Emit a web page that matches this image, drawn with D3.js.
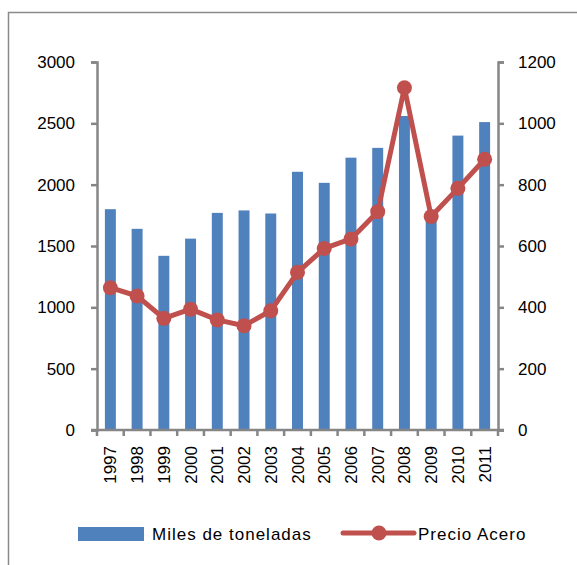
<!DOCTYPE html>
<html>
<head>
<meta charset="utf-8">
<script src="https://cdn.jsdelivr.net/npm/d3@7"></script>
<style>
  body { margin: 0; background: #fff; }
  text { font-family: "Liberation Sans", Arial, sans-serif; font-size: 17px; fill: #000; }
  .legend text { letter-spacing: 1px; }
  .axis path, .axis line { stroke: #868686; stroke-width: 2.5; }
</style>
</head>
<body>
<div class="chart"></div>
<script>
var years = ["1997","1998","1999","2000","2001","2002","2003","2004","2005","2006","2007","2008","2009","2010","2011"];
var toneladas = [1800, 1640, 1420, 1560, 1770, 1790, 1765, 2105, 2015, 2220, 2300, 2560, 1740, 2400, 2510];
var precio = [464, 437, 364, 394, 359, 340, 389, 514, 592, 623, 712, 1116, 696, 788, 883];
var leftTicks = [0, 500, 1000, 1500, 2000, 2500, 3000];
var rightTicks = [0, 200, 400, 600, 800, 1000, 1200];

var W = 577, H = 565;
var margin = { top: 62, right: 79, bottom: 135, left: 97 };
var width = W - margin.left - margin.right;
var height = H - margin.top - margin.bottom;

var svg = d3.select(".chart").append("svg")
    .attr("width", W)
    .attr("height", H);

// outer frame (right and bottom edges fall outside the picture)
svg.append("rect")
    .attr("x", 8.5).attr("y", 12.5)
    .attr("width", 700).attr("height", 700)
    .attr("fill", "none")
    .attr("stroke", "#8a8a8a")
    .attr("stroke-width", 1.5);

var g = svg.append("g")
    .attr("transform", "translate(" + margin.left + "," + margin.top + ")");

var x = d3.scaleBand()
    .domain(years)
    .range([0, width])
    .paddingInner(0.59)
    .paddingOuter(0.295);

var y = d3.scaleLinear().domain([0, 3000]).range([height, 0]);
var y2 = d3.scaleLinear().domain([0, 1200]).range([height, 0]);

// bars
g.selectAll(".bar")
    .data(toneladas)
  .enter().append("rect")
    .attr("class", "bar")
    .attr("x", function(d, i) { return x(years[i]); })
    .attr("width", x.bandwidth())
    .attr("y", function(d) { return y(d); })
    .attr("height", function(d) { return height - y(d); })
    .attr("fill", "#4f81bd");

// left axis
g.append("g")
    .attr("class", "axis")
    .call(d3.axisLeft(y).tickValues(leftTicks).tickFormat(d3.format("d"))
      .tickSize(6).tickSizeOuter(6).tickPadding(16));

// right axis
g.append("g")
    .attr("class", "axis")
    .attr("transform", "translate(" + width + ",0)")
    .call(d3.axisRight(y2).tickValues(rightTicks).tickFormat(d3.format("d"))
      .tickSize(6).tickSizeOuter(6).tickPadding(14));

// x axis with ticks between categories
var xa = g.append("g")
    .attr("class", "axis")
    .attr("transform", "translate(0," + height + ")");
xa.append("line")
    .attr("x1", -6).attr("x2", width + 6)
    .attr("y1", 0).attr("y2", 0);
var step = x.step();
xa.selectAll(".tk")
    .data(d3.range(years.length + 1))
  .enter().append("line")
    .attr("x1", function(i) { return i * step; })
    .attr("x2", function(i) { return i * step; })
    .attr("y1", 0).attr("y2", 6);
xa.selectAll(".yl")
    .data(years)
  .enter().append("text")
    .attr("transform", function(d) {
      return "translate(" + (x(d) + x.bandwidth() / 2 + 6) + ",16) rotate(-90)";
    })
    .style("text-anchor", "end")
    .text(function(d) { return d; });

// line
var line = d3.line()
    .x(function(d, i) { return x(years[i]) + x.bandwidth() / 2; })
    .y(function(d) { return y2(d); });

g.append("path")
    .datum(precio)
    .attr("d", line)
    .attr("fill", "none")
    .attr("stroke", "#c0504d")
    .attr("stroke-width", 5)
    .attr("stroke-linejoin", "round");

g.selectAll(".dot")
    .data(precio)
  .enter().append("circle")
    .attr("cx", function(d, i) { return x(years[i]) + x.bandwidth() / 2; })
    .attr("cy", function(d) { return y2(d); })
    .attr("r", 7.5)
    .attr("fill", "#c0504d");

// legend
var lg = svg.append("g").attr("class", "legend");
lg.append("rect")
    .attr("x", 78).attr("y", 527)
    .attr("width", 66).attr("height", 14)
    .attr("fill", "#4f81bd");
lg.append("text")
    .attr("x", 152).attr("y", 540)
    .text("Miles de toneladas");
lg.append("line")
    .attr("x1", 343).attr("x2", 414)
    .attr("y1", 533).attr("y2", 533)
    .attr("stroke", "#c0504d")
    .attr("stroke-width", 5)
    .attr("stroke-linecap", "round");
lg.append("circle")
    .attr("cx", 379).attr("cy", 533)
    .attr("r", 7.5)
    .attr("fill", "#c0504d");
lg.append("text")
    .attr("x", 418).attr("y", 540)
    .text("Precio Acero");
</script>
</body>
</html>
